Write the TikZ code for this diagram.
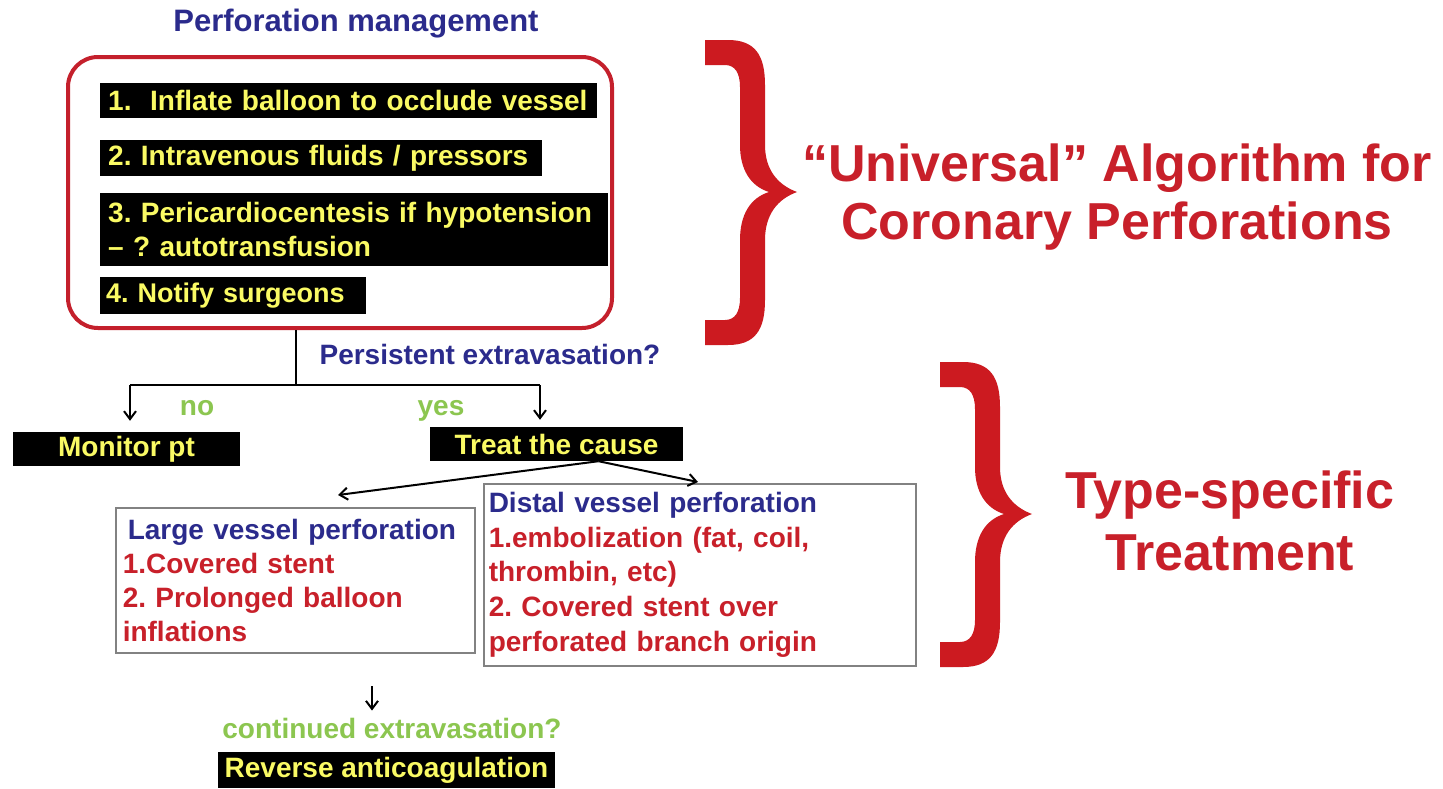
\documentclass[tikz,border=0pt]{standalone}
\usepackage{fontspec}
\setmainfont{Liberation Sans}
\usetikzlibrary{arrows.meta,calc}
\definecolor{navy}{RGB}{43,43,140}
\definecolor{tred}{RGB}{200,32,42}
\definecolor{bred}{RGB}{204,26,32}
\definecolor{boxred}{RGB}{196,32,44}
\definecolor{yel}{RGB}{250,250,100}
\definecolor{grn}{RGB}{140,198,80}
\definecolor{bordergray}{RGB}{130,130,130}
\frenchspacing
\begin{document}
\begin{tikzpicture}[x=1pt,y=-1pt,
  body/.style={font=\fontsize{28}{34}\selectfont\bfseries},
  big/.style={font=\fontsize{52}{58}\selectfont\bfseries, text=tred, align=center},
  blk/.style={body, fill=black, text=yel, inner xsep=8pt, inner ysep=0pt, align=left, anchor=north west},
  blkc/.style={body, fill=black, text=yel, inner sep=0pt, align=center},
  wbox/.style={draw=bordergray, line width=1.5pt, fill=white, anchor=north west, align=left, inner ysep=0pt},
  lbl/.style={body, inner sep=2pt},
  ln/.style={line width=2pt, black},
  arr/.style={line width=2pt, black, -{Straight Barb[length=8pt,width=12pt]}},
  bracefill/.style={fill=bred, draw=none}
]
\useasboundingbox (0,0) rectangle (1443,788);
\fill[white] (0,0) rectangle (1443,788);

% title
\node[body, font=\fontsize{31}{36}\selectfont\bfseries, text=navy] (title) at (356,24) {Perforation management};

% red rounded box
\node[draw=boxred, line width=4pt, rounded corners=30pt, minimum width=544pt, minimum height=271pt, inner sep=0pt] (mgmt) at (340,192.5) {};

% black steps
\node[blk, text width=481pt, minimum height=35pt] (b1) at (100,83) {1.\ \ Inflate balloon to occlude vessel};
\node[blk, text width=426pt, minimum height=36pt] (b2) at (100,140) {2. Intravenous fluids / pressors};
\node[blk, text width=492pt, minimum height=73pt] (b3) at (100,193) {3. Pericardiocentesis if hypotension\\– ? autotransfusion};
\node[blk, font=\fontsize{27}{34}\selectfont\bfseries, inner xsep=6pt, text width=254pt, minimum height=37pt] (b4) at (100,277) {\mbox{4. Notify surgeons}};

% question
\node[lbl, text=navy] (q1) at (490,354) {Persistent extravasation?};
\coordinate (split) at (296,385);
\coordinate (nL) at (130,385);
\coordinate (nR) at (540,385);
\draw[ln] (split |- mgmt.south) -- (split);
\draw[ln] (nL) -- (nR);

\node[blkc, minimum width=227pt, minimum height=34pt] (monitor) at (126.5,449) {Monitor pt};
\node[blkc, minimum width=253pt, minimum height=34pt] (treat) at (556.5,444) {Treat the cause};

\draw[arr] (nL) -- ([yshift=11pt]monitor.north -| nL);
\draw[arr] (nR) -- ([yshift=7pt]treat.north -| nR);
\node[lbl, text=grn, anchor=base] (no) at (197,415) {no};
\node[lbl, text=grn, anchor=base] (yes) at (441,415) {yes};

% type boxes
\node[wbox, body, inner xsep=7pt, text width=345pt, minimum height=145pt] (large) at (115,507)
  {\textcolor{navy}{\hspace{5pt}Large vessel perforation}\\
   \textcolor{tred}{1.Covered stent}\\
   \textcolor{tred}{2. Prolonged balloon}\\
   \textcolor{tred}{inflations}};
\node[wbox, font=\fontsize{28}{34.7}\selectfont\bfseries, inner xsep=5pt, text width=422pt, minimum height=182pt] (distal) at (483,483)
  {\textcolor{navy}{Distal vessel perforation}\\
   \textcolor{tred}{1.embolization (fat, coil,}\\
   \textcolor{tred}{thrombin, etc)}\\
   \textcolor{tred}{2. Covered stent over}\\
   \textcolor{tred}{perforated branch origin}};

\coordinate (fork) at ([xshift=42pt]treat.south);
\coordinate (lg) at (338,495);
\coordinate (dg) at (698,482);
\draw[arr] (fork) -- (lg);
\draw[arr] (fork) -- (dg);

% continued
\node[lbl, text=grn] (cont) at (392,728) {continued extravasation?};
\coordinate (s1) at (372,686);
\draw[arr] (s1) -- ([yshift=5pt]cont.north -| s1);
\node[blkc, minimum width=337pt, minimum height=36pt] (rev) at (386.5,770) {Reverse anticoagulation};

% braces
\foreach \bx/\by in {705/40, 940/362}{
\begin{scope}[shift={(\bx,\by)}]
\fill[bracefill] (0,0) -- (23,0) .. controls (50,0) and (60,15) .. (60,45) -- (60,105)
  .. controls (60,130) and (73,145) .. (92,152)
  .. controls (73,159) and (60,174) .. (60,200) -- (60,260)
  .. controls (60,290) and (50,305) .. (23,305) -- (0,305) -- (0,280) -- (20,280)
  .. controls (30,280) and (35,272) .. (35,258) -- (35,200)
  .. controls (35,175) and (45,158) .. (64,152)
  .. controls (45,146) and (35,129) .. (35,105) -- (35,47)
  .. controls (35,33) and (30,25) .. (20,25) -- (0,25) -- cycle;
\end{scope}
}

\node[big] (univ) at (1117,197) {“Universal” Algorithm for\\Coronary Perforations};
\node[big, font=\fontsize{52}{62}\selectfont\bfseries] (typ) at (1230,521) {Type-specific\\Treatment};
\end{tikzpicture}
\end{document}
